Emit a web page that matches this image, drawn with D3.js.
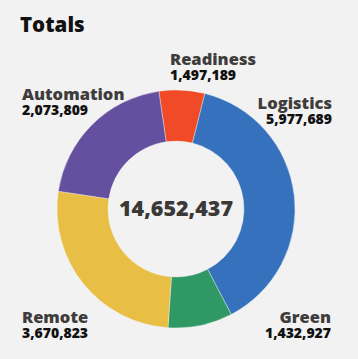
<!DOCTYPE html>
<html><head><meta charset="utf-8">
<script src="https://cdn.jsdelivr.net/npm/d3@7"></script>
<style>
html,body{margin:0;padding:0;background:#f2f2f2;}
svg{display:block;}
text{font-family:"Open Sans",sans-serif;font-weight:800;}
</style></head>
<body>
<script>
const categories = ["Readiness", "Logistics", "Green", "Remote", "Automation"];
const values = [1497189, 5977689, 1432927, 3670823, 2073809];
// slice sizes as drawn in the reference (share of the ring, %)
const sliceShares = [6.2, 38.4, 8.75, 26.3, 20.3];
const colors = ["#f04a26", "#3571bc", "#2f9864", "#e8bf44", "#6550a0"];
const title = "Totals";

const W = 358, H = 359;
const svg = d3.select("body").append("svg").attr("width", W).attr("height", H);
svg.append("rect").attr("width", W).attr("height", H).attr("fill", "#f2f2f2");

svg.append("text").attr("x", 20).attr("y", 32).attr("font-size", 20.5).attr("fill", "#111").text(title);

const cx = 176, cy = 209, rOuter = 119, rInner = 68;
const g = svg.append("g").attr("transform", `translate(${cx},${cy})`);
const pie = d3.pie().sort(null).value((d, i) => sliceShares[i])
  .startAngle(-8.3 * Math.PI / 180).endAngle(-8.3 * Math.PI / 180 + 2 * Math.PI);
const arc = d3.arc().innerRadius(rInner).outerRadius(rOuter);
g.selectAll("path").data(pie(categories)).join("path")
  .attr("d", arc).attr("fill", (d, i) => colors[i])
  .attr("stroke", "#f2f2f2").attr("stroke-width", 0.4);

const fmt = d3.format(",");
g.append("text").attr("text-anchor", "middle").attr("y", 6.5).attr("font-size", 21.5)
  .attr("fill", "#3b3838").text(fmt(d3.sum(values)));

// label anchors
const labelPos = [
  {x: 170, y: 65, anchor: "start"},
  {x: 332, y: 109, anchor: "end"},
  {x: 331, y: 323, anchor: "end"},
  {x: 22, y: 323, anchor: "start"},
  {x: 22, y: 100, anchor: "start"}
];
categories.forEach((c, i) => {
  const p = labelPos[i];
  const t = svg.append("g");
  t.append("text").attr("x", p.x).attr("y", p.y).attr("text-anchor", p.anchor)
    .attr("font-size", 16.5).attr("fill", "#3f3c3c").text(c);
  t.append("text").attr("x", p.x).attr("y", p.y + 14.5).attr("text-anchor", p.anchor)
    .attr("font-size", 14).attr("fill", "#111").text(fmt(values[i]));
});
</script>
</body></html>
